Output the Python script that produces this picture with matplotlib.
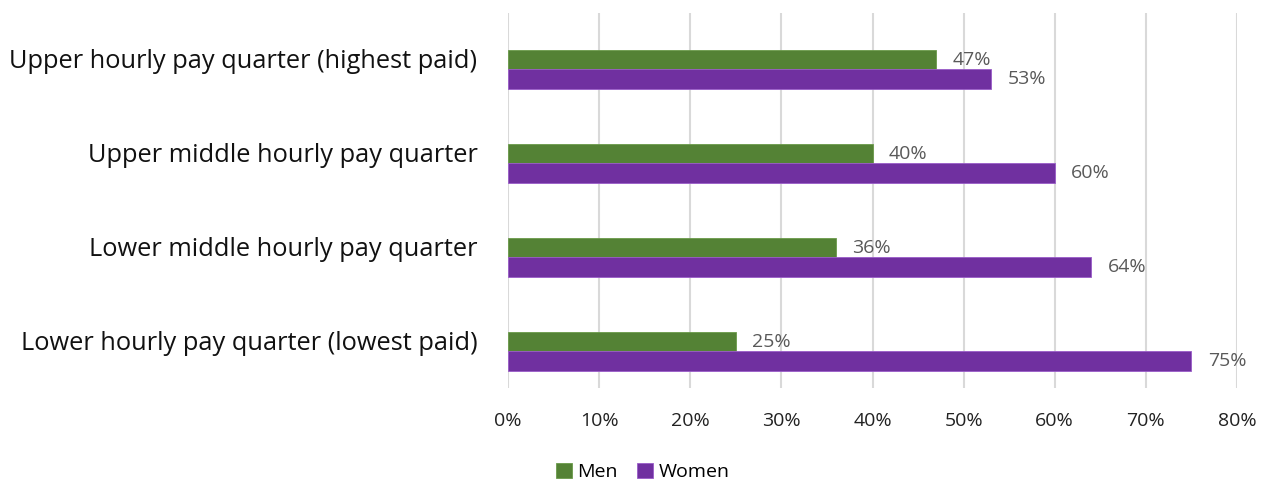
import matplotlib.pyplot as plt
import numpy as np

plt.rcParams['font.family'] = ['Open Sans', 'DejaVu Sans']

# Data: share of men / women in each hourly pay quarter
categories = ['Lower hourly pay quarter (lowest paid)',
              'Lower middle hourly pay quarter',
              'Upper middle hourly pay quarter',
              'Upper hourly pay quarter (highest paid)']
men = [25, 36, 40, 47]
women = [75, 64, 60, 53]

green = '#548235'
purple = '#7030A0'

fig = plt.figure(figsize=(12.68, 4.84), dpi=100)
ax = fig.add_axes([508 / 1268, 1 - 388 / 484, (1237 - 508) / 1268, 375 / 484])

y = np.arange(len(categories))
h = 0.205
ax.barh(y + h / 2, men, height=h, color=green, edgecolor='#6a9a4a', linewidth=0.6, label='Men', zorder=3)
ax.barh(y - h / 2, women, height=h, color=purple, edgecolor='#9a5cc8', linewidth=0.6, label='Women', zorder=3)

for yi, m, w in zip(y, men, women):
    ax.text(m + 1.8, yi + h / 2, f'{m}%', va='center', ha='left', fontsize=14, color='#595959')
    ax.text(w + 1.8, yi - h / 2, f'{w}%', va='center', ha='left', fontsize=14, color='#595959')

ax.set_xlim(0, 80)
ax.set_ylim(-0.39, 3.6)
ax.set_xticks(range(0, 81, 10))
ax.set_xticklabels([f'{t}%' for t in range(0, 81, 10)], fontsize=14, color='#222222')
# category labels sit a little above the centre of each bar pair
ax.set_yticks(y + 0.12)
ax.set_yticklabels(categories, fontsize=18.3, color='#111111')
ax.tick_params(axis='both', length=0)
ax.tick_params(axis='x', pad=17)
ax.tick_params(axis='y', pad=22)
ax.grid(axis='x', color='#d9d9d9', linewidth=1.5, zorder=0)
for s in ax.spines.values():
    s.set_visible(False)

fig.legend(loc='center', bbox_to_anchor=(643 / 1268, 1 - 472 / 484), ncol=2, frameon=False,
           fontsize=14, handlelength=0.8, handleheight=0.8, handletextpad=0.3, columnspacing=1.0)

plt.savefig('out.png', dpi=100)
